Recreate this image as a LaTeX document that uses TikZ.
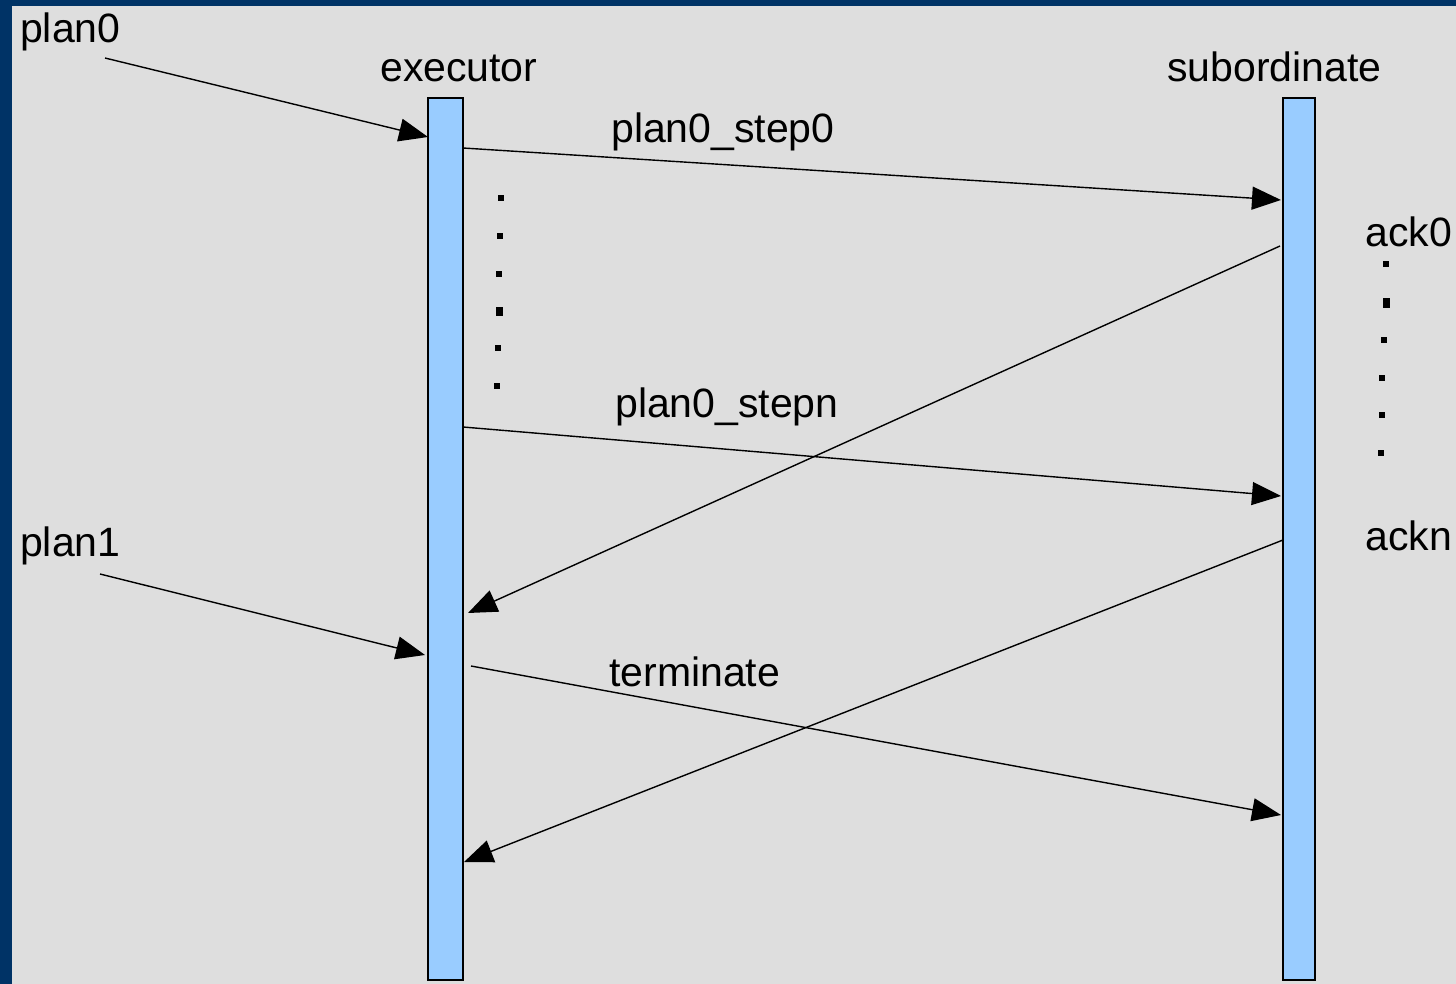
\documentclass[tikz,border=0pt]{standalone}
\usepackage{fontspec}
\setmainfont{Liberation Sans}
\usetikzlibrary{arrows.meta}
\definecolor{frameblue}{HTML}{003366}
\definecolor{bggray}{HTML}{DEDEDE}
\definecolor{barblue}{HTML}{99CCFF}
\tikzset{
  lbl/.style={anchor=base west, inner sep=0pt, font=\fontsize{41}{49}\selectfont},
  bar/.style={draw=black, line width=2pt, fill=barblue, inner sep=0pt, minimum height=882pt},
  msg/.style={line width=1.4pt, -{Triangle[length=29pt,width=23pt]}},
  dotsq/.style={fill=black, inner sep=0pt, minimum size=6pt},
  bigdot/.style={fill=black, inner sep=0pt, minimum width=7pt, minimum height=9pt}
}
\begin{document}
\begin{tikzpicture}[x=1pt,y=-1pt]
\useasboundingbox (0,0) rectangle (1456,984);
\fill[frameblue] (0,0) rectangle (1456,984);
\fill[bggray] (12,6) rectangle (1456,984);

% lifelines
\node[bar, minimum width=35pt] (ex) at (445.5,539) {};
\node[bar, minimum width=32pt] (sub) at (1299,539) {};

% labels
\node[lbl] (lplan0) at (20,43) {plan0};
\node[lbl] (lexec) at (380,82) {executor};
\node[lbl] (lsub) at (1167,82) {subordinate};
\node[lbl] (lstep0) at (611,143) {plan0\_step0};
\node[lbl] (lstepn) at (615,417) {plan0\_stepn};
\node[lbl] (lplan1) at (20,556) {plan1};
\node[lbl] (lterm) at (609,686) {terminate};
\node[lbl] (lack0) at (1365,247) {ack0};
\node[lbl] (lackn) at (1365,550) {ackn};

% connector end points
\coordinate (p0s) at (105,58);
\coordinate (p0e) at (428,137);
\coordinate (s0s) at (463,148);
\coordinate (s0e) at (1281,200);
\coordinate (a0s) at (1280,246);
\coordinate (a0e) at (468,613);
\coordinate (sns) at (463,427);
\coordinate (sne) at (1281,496);
\coordinate (ans) at (1283,540);
\coordinate (ane) at (464,862);
\coordinate (p1s) at (100,574);
\coordinate (p1e) at (425,655);
\coordinate (ts) at (471,666);
\coordinate (te) at (1281,815);

\draw[msg] (p0s) -- (p0e);
\draw[msg] (s0s) -- (s0e);
\draw[msg] (a0s) -- (a0e);
\draw[msg] (sns) -- (sne);
\draw[msg] (ans) -- (ane);
\draw[msg] (p1s) -- (p1e);
\draw[msg] (ts) -- (te);

% ellipsis dots, executor side
\node[dotsq] (d1) at (501,198) {};
\node[dotsq] (d2) at (500,236) {};
\node[dotsq] (d3) at (499,274) {};
\node[bigdot] (d4) at (499,311) {};
\node[dotsq] (d5) at (498,348) {};
\node[dotsq] (d6) at (497,386) {};

% ellipsis dots, ack side
\node[dotsq] (e1) at (1386,264) {};
\node[bigdot] (e2) at (1386,303) {};
\node[dotsq] (e3) at (1384,340) {};
\node[dotsq] (e4) at (1382,378) {};
\node[dotsq] (e5) at (1382,415) {};
\node[dotsq] (e6) at (1381,453) {};
\end{tikzpicture}
\end{document}
